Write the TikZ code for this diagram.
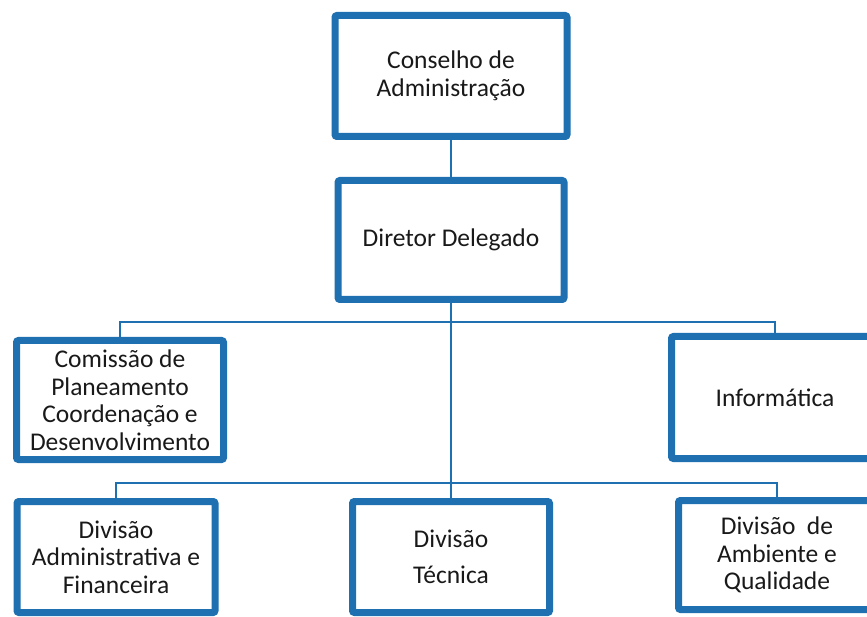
\documentclass[tikz,border=0pt]{standalone}
\usepackage{fontspec}
\setmainfont{Carlito}
\usetikzlibrary{shadows}
\definecolor{boxblue}{RGB}{30,112,176}
\definecolor{txt}{RGB}{25,25,25}
\begin{document}
\begin{tikzpicture}[x=1pt,y=-1pt,
  orgbox/.style={draw=boxblue, line width=7pt, fill=white, rounded corners=2pt,
    align=center, text=txt, inner sep=0pt,
    font=\fontsize{25.5}{27.5}\selectfont,
    drop shadow={shadow xshift=1pt, shadow yshift=-3pt, opacity=0.35, fill=brown!50!gray}},
  link/.style={draw=boxblue, line width=2.5pt}]
\useasboundingbox (0,0) rectangle (867,617);
\fill[white] (0,0) rectangle (867,617);
\node[orgbox, minimum width=232pt, minimum height=121pt] (cons) at (451,76) {Conselho de\\Administração};
\node[orgbox, minimum width=226pt, minimum height=119pt] (dir) at (451,240) {Diretor Delegado};
\node[orgbox, minimum width=207pt, minimum height=119pt] (cpd) at (120,400) {Comissão de\\Planeamento\\Coordenação e\\Desenvolvimento};
\node[orgbox, minimum width=207pt, minimum height=122pt] (inf) at (775,397.5) {Informática};
\node[orgbox, minimum width=198pt, minimum height=111pt] (dadm) at (116,557) {Divisão\\Administrativa e\\Financeira};
\node[orgbox, minimum width=197pt, minimum height=111pt] (dtec) at (451,557) {Divisão\\[8pt]Técnica};
\node[orgbox, minimum width=197pt, minimum height=109pt] (damb) at (777,555) {Divisão\ \ de\\Ambiente e\\Qualidade};
\coordinate (j1) at (451,322);
\coordinate (j2) at (451,483);
\draw[link] (cons.south) -- (dir.north);
\draw[link] (dir.south) -- (dtec.north);
\draw[link] (j1) -| (cpd.north);
\draw[link] (j1) -| (inf.north);
\draw[link] (j2) -| (dadm.north);
\draw[link] (j2) -| (damb.north);
\end{tikzpicture}
\end{document}
